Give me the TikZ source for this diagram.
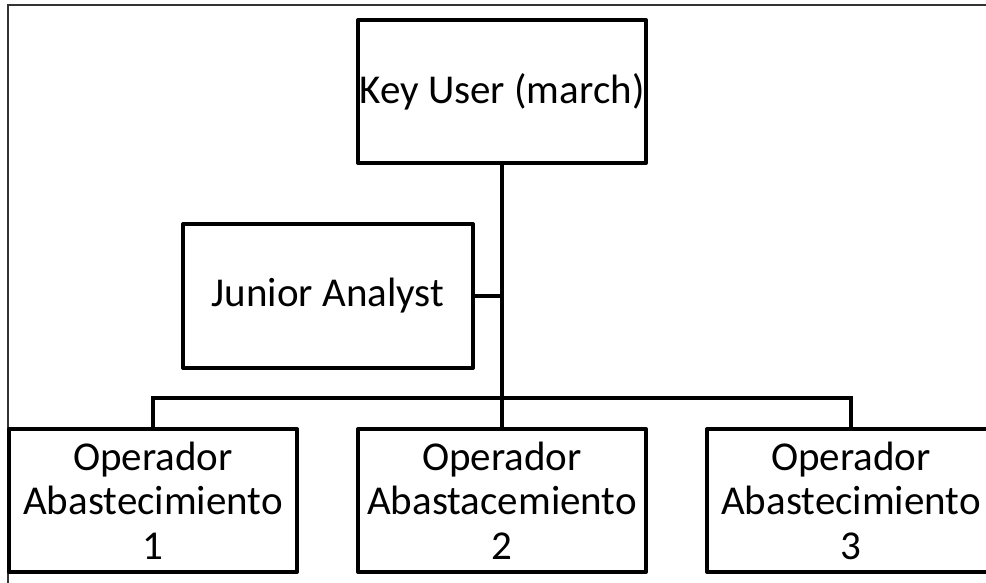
\documentclass[tikz,border=0pt]{standalone}
\usepackage{fontspec}
\setmainfont{Carlito}
\begin{document}
\begin{tikzpicture}[x=1pt,y=-1pt,
  orgbox/.style={draw=black, line width=4pt, line join=round, fill=white,
    minimum width=288pt, minimum height=143pt, inner sep=0pt,
    align=center, font=\fontsize{41}{44.5}\selectfont},
  link/.style={draw=black, line width=4.5pt}]
  \useasboundingbox (0,0) rectangle (986,583);
  \clip (0,0) rectangle (986,583);
  % page frame
  \draw[line width=1.8pt, black!80] (8,5) rectangle (1010,620);
  % boxes
  \node[orgbox] (key) at (502,91.5) {Key User (march)};
  \node[orgbox, minimum width=290pt, minimum height=144pt] (ja) at (328,296) {Junior Analyst};
  \node[orgbox] (op1) at (153,500.5) {Operador\\Abastecimiento\\1};
  \node[orgbox] (op2) at (502,500.5) {Operador\\Abastacemiento\\2};
  \node[orgbox] (op3) at (851,500.5) {Operador\\Abastecimiento\\3};
  % connectors
  \coordinate (bus) at (502,398);
  \draw[link] (key.south) -- (op2.north);
  \draw[link, line width=3.5pt] (ja.east) -- (ja.east -| key.south);
  \draw[link, line width=3.5pt] (op1.north) |- (bus) -| (op3.north);
\end{tikzpicture}
\end{document}
